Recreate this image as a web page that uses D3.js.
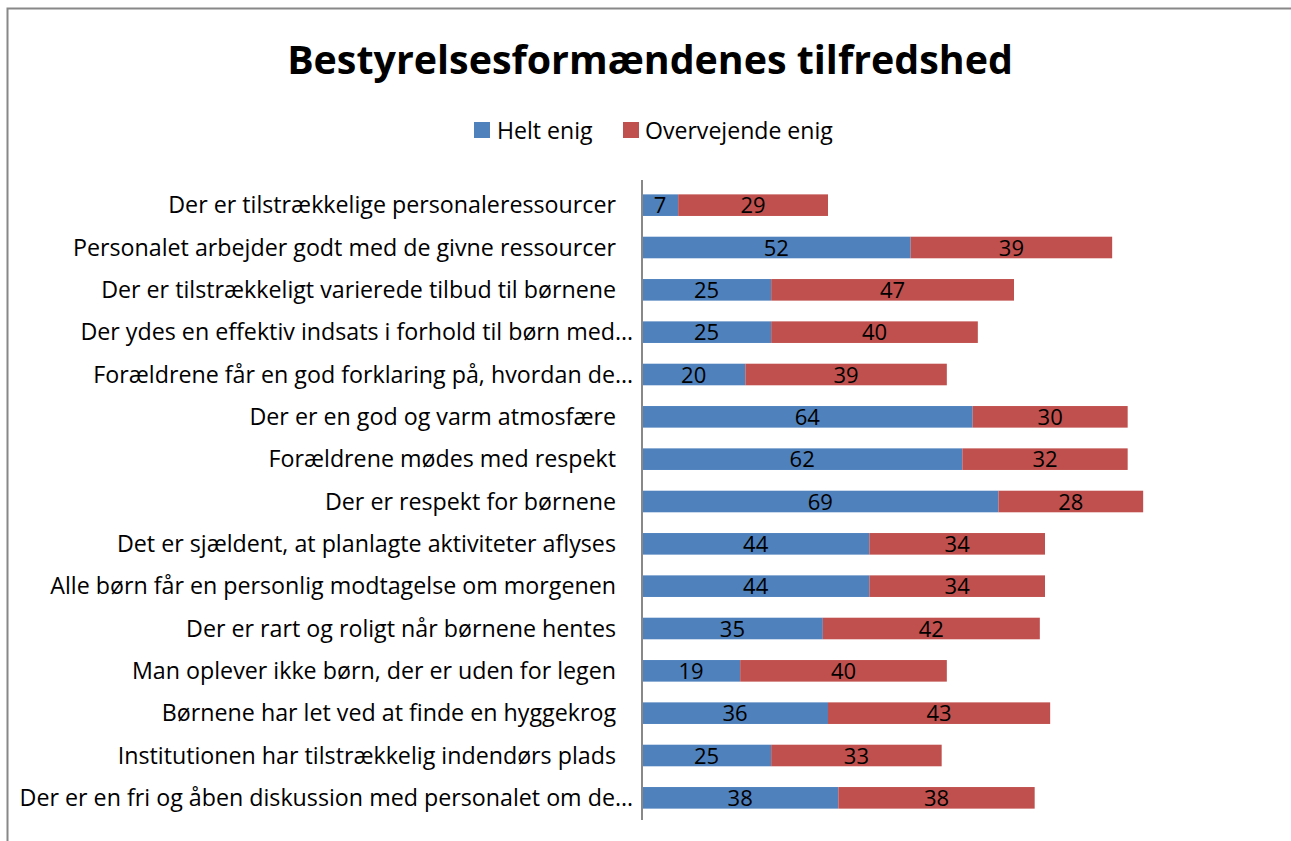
<!DOCTYPE html>
<html><head><meta charset="utf-8">
<script src="https://cdn.jsdelivr.net/npm/d3@7"></script>
<style>body{margin:0;background:#fff}svg{display:block}</style>
</head><body>
<svg id="c" width="1291" height="841"></svg>
<script>
const categories = [
 "Der er tilstrækkelige personaleressourcer",
 "Personalet arbejder godt med de givne ressourcer",
 "Der er tilstrækkeligt varierede tilbud til børnene",
 "Der ydes en effektiv indsats i forhold til børn med…",
 "Forældrene får en god forklaring på, hvordan de…",
 "Der er en god og varm atmosfære",
 "Forældrene mødes med respekt",
 "Der er respekt for børnene",
 "Det er sjældent, at planlagte aktiviteter aflyses",
 "Alle børn får en personlig modtagelse om morgenen",
 "Der er rart og roligt når børnene hentes",
 "Man oplever ikke børn, der er uden for legen",
 "Børnene har let ved at finde en hyggekrog",
 "Institutionen har tilstrækkelig indendørs plads",
 "Der er en fri og åben diskussion med personalet om de…"
];
const heltEnig = [7,52,25,25,20,64,62,69,44,44,35,19,36,25,38];
const overvejendeEnig = [29,39,47,40,39,30,32,28,34,34,42,40,43,33,38];
const seriesNames = ["Helt enig","Overvejende enig"];
const colors = ["#4F81BD","#C0504D"];
const title = "Bestyrelsesformændenes tilfredshed";

const svg = d3.select("#c");
const font = "'Open Sans', sans-serif";

function fit(sel, target){
  let w = 0; sel.each(function(){ w = Math.max(w, this.getComputedTextLength()); });
  const fs = parseFloat(sel.attr("font-size"));
  return fs*target/w;
}

// frame
svg.append("path").attr("d","M7.5,841 V8.5 H1291").attr("fill","none").attr("stroke","#888").attr("stroke-width",2);

const t = svg.append("text").attr("x",650).attr("y",74).attr("text-anchor","middle")
  .attr("font-family",font).attr("font-weight","bold").attr("font-size",36).attr("fill","#000").text(title);
t.attr("font-size", fit(t, 726));

const x = d3.scaleLinear().domain([0,120]).range([642,1262]);
const y = d3.scaleBand().domain(categories).range([184,819]).paddingInner(0.49).paddingOuter(0.245);

const stackData = categories.map((c,i)=>({cat:c, h:heltEnig[i], o:overvejendeEnig[i]}));
const stack = d3.stack().keys(["h","o"])(stackData);

stack.forEach((layer,li)=>{
  const g = svg.append("g");
  g.selectAll("rect").data(layer).enter().append("rect")
    .attr("x",d=>x(d[0])).attr("width",d=>x(d[1])-x(d[0]))
    .attr("y",d=>y(d.data.cat)).attr("height",y.bandwidth())
    .attr("fill",colors[li]);
  g.selectAll("text").data(layer).enter().append("text")
    .attr("x",d=>(x(d[0])+x(d[1]))/2).attr("y",d=>y(d.data.cat)+y.bandwidth()/2+8)
    .attr("text-anchor","middle").attr("font-family",font).attr("font-size",22).attr("fill","#000")
    .text(d=>d[1]-d[0]);
});

// axis
const ax = svg.append("g").attr("transform","translate(642,0)").call(d3.axisLeft(y).tickSize(0).tickPadding(9));
ax.select(".domain").attr("stroke","#888").attr("stroke-width",2).attr("d","M0,180V820");
const lbl = ax.selectAll("text").attr("font-family",font).attr("font-size",20).attr("fill","#000").attr("dy","0.35em");
const plain = lbl.filter(d=>!d.endsWith("…"));
lbl.attr("font-size", fit(plain, 566));
plain.attr("dx", -17);

// legend
const lg = svg.append("g");
const lx = [474,623], tx=[497,645];
const lts = [];
seriesNames.forEach((n,i)=>{
  lg.append("rect").attr("x",lx[i]).attr("y",122).attr("width",16).attr("height",16).attr("fill",colors[i]);
  lts.push(lg.append("text").attr("x",tx[i]).attr("y",139).attr("font-family",font).attr("font-size",20).attr("fill","#000").text(n));
});
const lfs = fit(lts[1],188);
lts.forEach(s=>s.attr("font-size",lfs));
</script>
</body></html>
